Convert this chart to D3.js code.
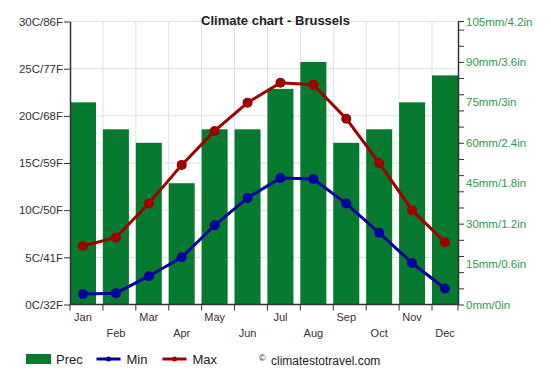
<!DOCTYPE html>
<html>
<head>
<meta charset="utf-8">
<script src="https://cdn.jsdelivr.net/npm/d3@7"></script>
<style>
  body { margin: 0; background: #fff; }
  svg { font-family: "Liberation Sans", Arial, sans-serif; }
</style>
</head>
<body>
<svg width="551" height="385"></svg>
<script>
var months = ["Jan", "Feb", "Mar", "Apr", "May", "Jun", "Jul", "Aug", "Sep", "Oct", "Nov", "Dec"];
var prec = [75, 65, 60, 45, 65, 65, 80, 90, 60, 65, 75, 85];
var tMin = [1.1, 1.2, 3.0, 5.0, 8.4, 11.3, 13.4, 13.3, 10.7, 7.6, 4.4, 1.7];
var tMax = [6.2, 7.1, 10.7, 14.8, 18.4, 21.4, 23.5, 23.3, 19.7, 15.0, 10.0, 6.6];
var tempTicks = [0, 5, 10, 15, 20, 25, 30];
var tempLabels = ["0C/32F", "5C/41F", "10C/50F", "15C/59F", "20C/68F", "25C/77F", "30C/86F"];
var precTicks = [0, 15, 30, 45, 60, 75, 90, 105];
var precLabels = ["0mm/0in", "15mm/0.6in", "30mm/1.2in", "45mm/1.8in", "60mm/2.4in", "75mm/3in", "90mm/3.6in", "105mm/4.2in"];

var padding = { top: 21.5, right: 93, bottom: 80.5, left: 70 };
var width = 551, height = 385;
var green = "#067a2e", red = "#a00000", blue = "#0000a0";

var svg = d3.select("svg");

var x = d3.scaleBand()
  .domain(months)
  .range([padding.left, width - padding.right])
  .paddingInner(0.21)
  .paddingOuter(0);

var step = x.step();

var yT = d3.scaleLinear().domain([0, 30]).range([height - padding.bottom, padding.top]);
var yP = d3.scaleLinear().domain([0, 105]).range([height - padding.bottom, padding.top]);

// grid
svg.append("g")
  .selectAll("line.h")
  .data(tempTicks.slice(1))
  .enter().append("line")
    .attr("x1", padding.left).attr("x2", width - padding.right)
    .attr("y1", d => yT(d)).attr("y2", d => yT(d))
    .attr("stroke", "#e0e0e0");

svg.append("g")
  .selectAll("line.v")
  .data(months.slice(1))
  .enter().append("line")
    .attr("x1", d => x(d)).attr("x2", d => x(d))
    .attr("y1", padding.top).attr("y2", height - padding.bottom)
    .attr("stroke", "#e0e0e0");

// bars
svg.append("g")
  .selectAll("rect")
  .data(prec)
  .enter().append("rect")
    .attr("x", (d, i) => x(months[i]))
    .attr("width", x.bandwidth())
    .attr("y", d => yP(d))
    .attr("height", d => yP(0) - yP(d))
    .attr("fill", green);

// lines
var line = d3.line()
  .x((d, i) => x(months[i]) + x.bandwidth() / 2)
  .y(d => yT(d));

[[tMin, blue], [tMax, red]].forEach(function(s) {
  svg.append("path")
    .datum(s[0])
    .attr("d", line)
    .attr("fill", "none")
    .attr("stroke", s[1])
    .attr("stroke-width", 3);
  svg.append("g")
    .selectAll("circle")
    .data(s[0])
    .enter().append("circle")
      .attr("cx", (d, i) => x(months[i]) + x.bandwidth() / 2)
      .attr("cy", d => yT(d))
      .attr("r", 5)
      .attr("fill", s[1]);
});

// left axis
var left = svg.append("g")
  .attr("transform", "translate(" + padding.left + ",0)")
  .call(d3.axisLeft(yT).tickValues(tempTicks).tickFormat((d, i) => tempLabels[i]).tickSize(6).tickSizeOuter(0));
left.select(".domain").attr("stroke", "#333").attr("stroke-width", 1.5);
left.selectAll(".tick line").attr("stroke", "#333");
left.selectAll("text").attr("font-size", 11.5).attr("fill", "#333").attr("x", -7);

// right axis: minor ticks every 6mm, labels every 15mm
var rx = width - padding.right;
var right = svg.append("g").attr("transform", "translate(" + rx + ",0)");
right.call(d3.axisRight(yP).tickValues(d3.range(0, 105, 6)).tickFormat("").tickSize(6).tickSizeOuter(0));
right.select(".domain").attr("stroke", "#333").attr("stroke-width", 1.5);
right.selectAll(".tick line").attr("stroke", "#333");
right.selectAll(".lbl")
  .data(precTicks)
  .enter().append("text")
    .attr("x", 8)
    .attr("y", d => yP(d))
    .attr("dy", "0.35em")
    .attr("font-size", 11.5)
    .attr("fill", "#2e9a50")
    .text((d, i) => precLabels[i]);
right.append("line").attr("x1", 0).attr("x2", 6).attr("y1", yP(105)).attr("y2", yP(105)).attr("stroke", "#333");

// bottom axis
var bottom = svg.append("g")
  .attr("transform", "translate(0," + yT(0) + ")");
bottom.append("line")
  .attr("x1", padding.left).attr("x2", rx)
  .attr("stroke", "#333").attr("stroke-width", 1.5);
bottom.selectAll(".tk")
  .data(months.concat(["end"]))
  .enter().append("line")
    .attr("x1", (d, i) => i < 12 ? x(d) : rx)
    .attr("x2", (d, i) => i < 12 ? x(d) : rx)
    .attr("y1", 0).attr("y2", 6)
    .attr("stroke", "#333");
bottom.selectAll(".ml")
  .data(months)
  .enter().append("text")
    .attr("x", d => x(d) + x.bandwidth() / 2)
    .attr("y", (d, i) => i % 2 === 0 ? 16 : 32)
    .attr("text-anchor", "middle")
    .attr("font-size", 11)
    .attr("fill", "#333")
    .text(d => d);

// title
svg.append("text")
  .attr("x", width / 2).attr("y", 25)
  .attr("text-anchor", "middle")
  .attr("font-size", 13)
  .attr("font-weight", "bold")
  .attr("fill", "#222")
  .text("Climate chart - Brussels");

// legend
var lg = svg.append("g").attr("font-size", 13).attr("fill", "#222");
lg.append("rect").attr("x", 26).attr("y", 354).attr("width", 25).attr("height", 10).attr("fill", green);
lg.append("text").attr("x", 56).attr("y", 364).text("Prec");
[[96.5, blue, "Min"], [162.5, red, "Max"]].forEach(function(l) {
  lg.append("line").attr("x1", l[0]).attr("x2", l[0] + 24).attr("y1", 359).attr("y2", 359)
    .attr("stroke", l[1]).attr("stroke-width", 3);
  lg.append("circle").attr("cx", l[0] + 12).attr("cy", 359).attr("r", 2.5).attr("fill", l[1]);
  lg.append("text").attr("x", l[0] + 30).attr("y", 364).text(l[2]);
});
lg.append("text").attr("x", 259).attr("y", 361).attr("font-size", 9).text("©");
lg.append("text").attr("x", 271).attr("y", 365).attr("font-size", 12).text("climatestotravel.com");
</script>
</body>
</html>
